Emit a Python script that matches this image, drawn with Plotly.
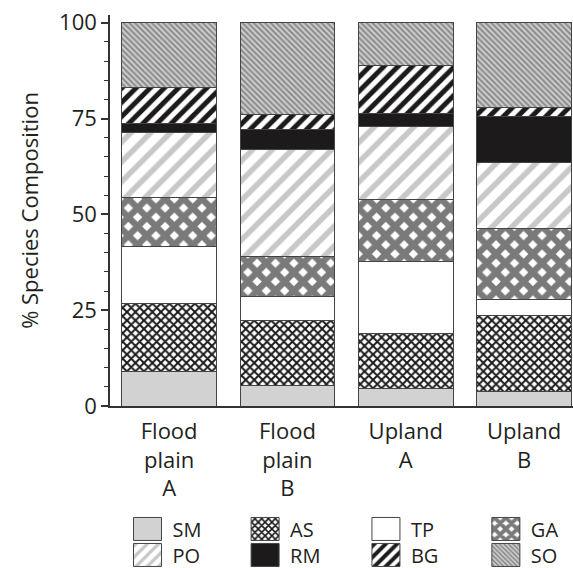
import plotly.graph_objects as go

categories = ["Flood<br>plain<br>A", "Flood<br>plain<br>B", "Upland<br>A", "Upland<br>B"]
species = ["SM", "AS", "TP", "GA", "PO", "RM", "BG", "SO"]
SM = [8.9, 5.4, 4.5, 3.7]
AS = [17.9, 17.0, 14.5, 20.0]
TP = [14.7, 6.1, 18.8, 4.1]
GA = [13.0, 10.6, 16.0, 18.5]
PO = [16.9, 27.8, 19.0, 17.1]
RM = [2.2, 5.2, 3.5, 12.0]
BG = [9.4, 3.9, 12.6, 2.4]
SO = [17.0, 24.0, 11.1, 22.2]
values = [SM, AS, TP, GA, PO, RM, BG, SO]
y_ticks = [0, 25, 50, 75, 100]

# legend column for each species (4 columns x 2 rows)
legend_of = {"SM": "legend", "PO": "legend",
             "AS": "legend2", "RM": "legend2",
             "TP": "legend3", "BG": "legend3",
             "GA": "legend4", "SO": "legend4"}

styles = {
    "SM": dict(color="#d2d2d2", pattern=dict(shape="")),
    "AS": dict(color="white", pattern=dict(shape="x", fgcolor="#1a1a1a", bgcolor="white", size=6, solidity=0.55, fgopacity=1)),
    "TP": dict(color="white", pattern=dict(shape="")),
    "GA": dict(color="white", pattern=dict(shape="x", fgcolor="#7a7a7a", bgcolor="white", size=13, solidity=0.74, fgopacity=1)),
    "PO": dict(color="white", pattern=dict(shape="/", fgcolor="#c8c8c8", bgcolor="white", size=14, solidity=0.4, fgopacity=1)),
    "RM": dict(color="#1c1a1b", pattern=dict(shape="")),
    "BG": dict(color="white", pattern=dict(shape="/", fgcolor="#1c1a1b", bgcolor="white", size=10, solidity=0.5, fgopacity=1)),
    "SO": dict(color="white", pattern=dict(shape="\\", fgcolor="#8a8a8a", bgcolor="#cfcfcf", size=4, solidity=0.5, fgopacity=1)),
}

fig = go.Figure()
for name, vals in zip(species, values):
    st = styles[name]
    fig.add_trace(go.Bar(
        x=categories, y=vals, name=name, width=0.8, legend=legend_of[name],
        marker=dict(color=st["color"], pattern=st["pattern"],
                    line=dict(color="#444444", width=1)),
    ))

font_family = "Open Sans, Noto Sans, sans-serif"
leg_common = dict(orientation="v", y=-0.2646, xanchor="left", yanchor="top",
                  traceorder="normal", itemwidth=40, bgcolor="rgba(0,0,0,0)",
                  font=dict(size=20, color="#231f20"), itemclick=False, itemdoubleclick=False)
fig.update_layout(
    barmode="stack",
    width=573, height=568,
    margin=dict(l=110, r=0, t=15, b=162, autoexpand=False),
    paper_bgcolor="white", plot_bgcolor="white",
    font=dict(family=font_family, size=22, color="#231f20"),
    showlegend=True,
    legend=dict(x=0.027, **leg_common),
    legend2=dict(x=0.281, **leg_common),
    legend3=dict(x=0.542, **leg_common),
    legend4=dict(x=0.801, **leg_common),
    xaxis=dict(range=[-0.5, 3.414], showline=True, linecolor="#333333", linewidth=1.5,
               ticks="", showgrid=False, tickfont=dict(size=22), automargin=False,
               ticklabelstandoff=5),
    yaxis=dict(range=[0, 102], showline=True, linecolor="#333333", linewidth=1.5,
               tickvals=y_ticks, ticks="outside", ticklen=7, tickcolor="#333333", tickwidth=1.5,
               showgrid=False, zeroline=False, automargin=False,
               minor=dict(dtick=5, ticks="outside", ticklen=4, tickcolor="#333333", tickwidth=1, showgrid=False),
               title=dict(text="% Species Composition", font=dict(size=22), standoff=14)),
)

post = """
var gd = document.getElementById('{plot_id}');
gd.querySelectorAll('.legendpoints path').forEach(function(p){
  p.setAttribute('d', 'M14,11.5H-14V-11.5H14Z');
});
var re = /translate\\(([-\\d.e]+)[ ,]+([-\\d.e]+)\\)/;
gd.querySelectorAll('.infolayer > g').forEach(function(lg){
  var cls = lg.getAttribute('class') || '';
  if(cls.indexOf('legend') !== 0) return;
  var tr = lg.querySelectorAll('g.traces');
  if(tr.length === 2){
    var m0 = re.exec(tr[0].getAttribute('transform') || '');
    var m1 = re.exec(tr[1].getAttribute('transform') || '');
    if(m0 && m1){
      tr[1].setAttribute('transform', 'translate(' + m1[1] + ',' + (parseFloat(m0[2]) + 26) + ')');
    }
  }
});
"""
fig.write_html("out.html", post_script=post)
